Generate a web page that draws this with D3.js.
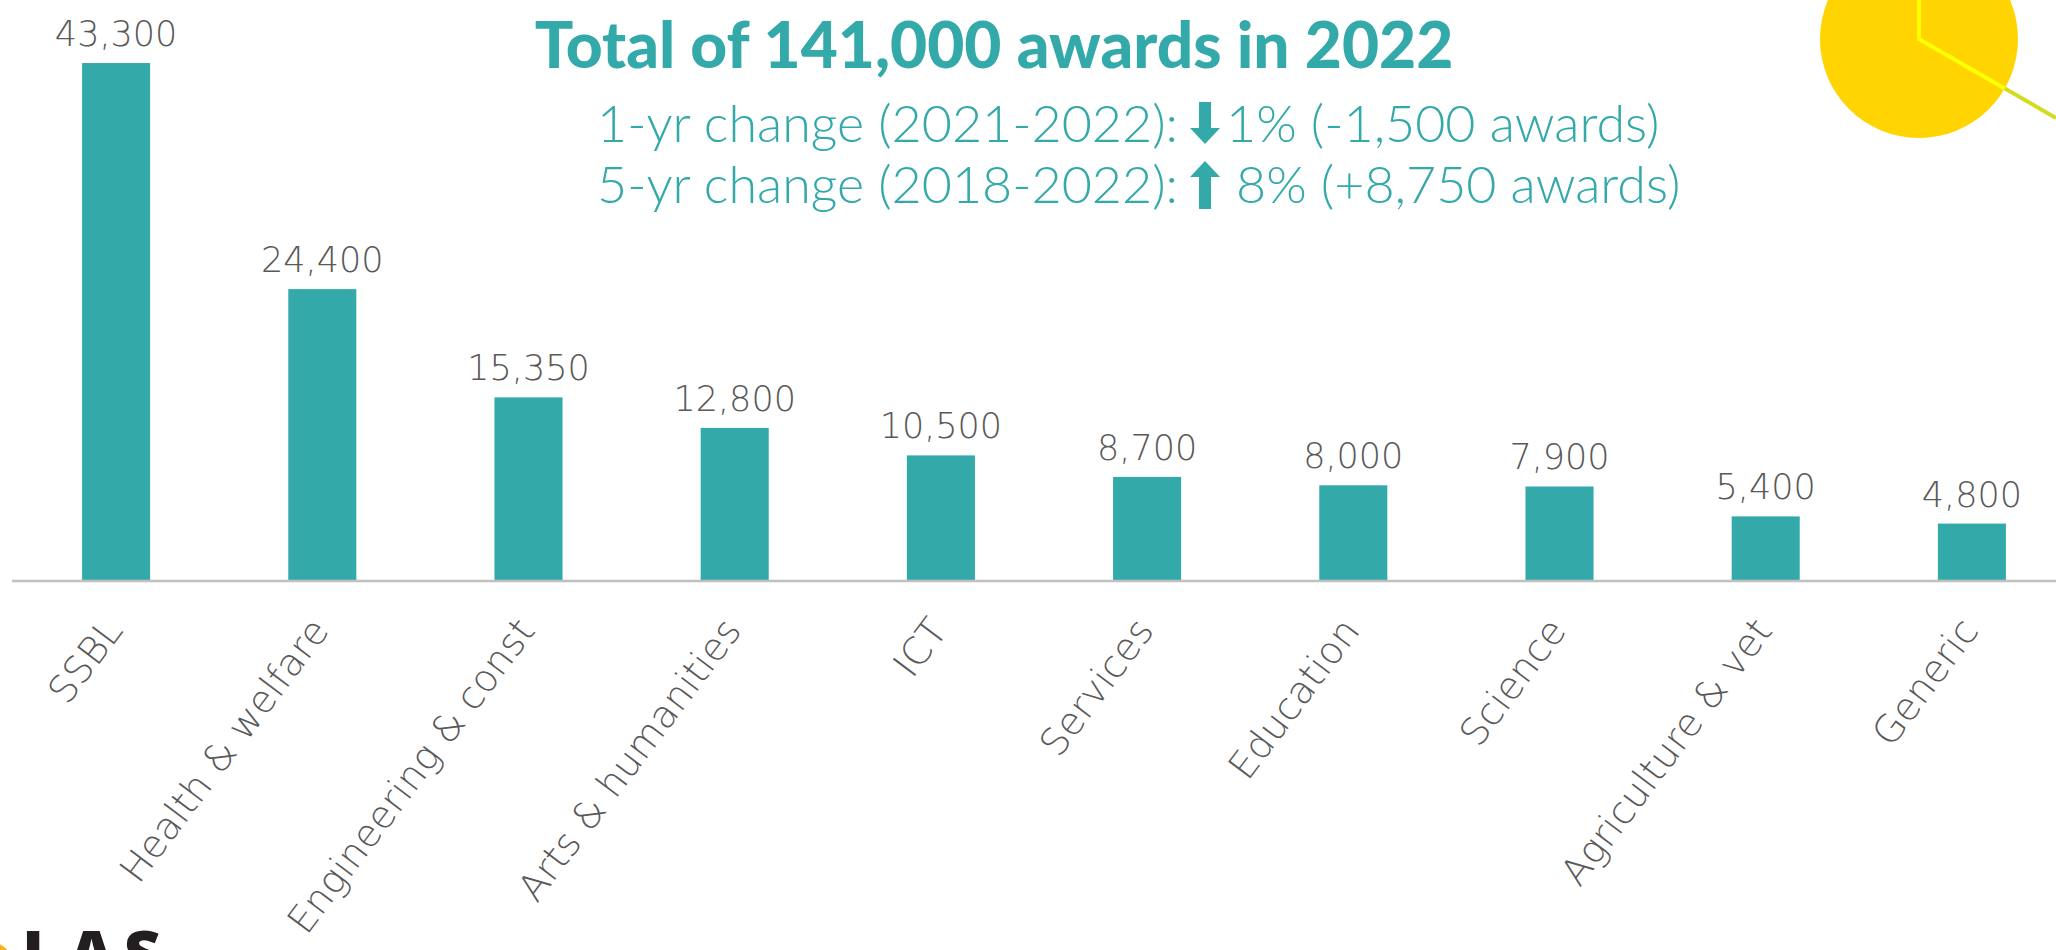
<!DOCTYPE html>
<html>
<head>
<meta charset="utf-8">
<script src="https://cdn.jsdelivr.net/npm/d3@7"></script>
<style>
  html, body { margin: 0; padding: 0; background: #fff; overflow: hidden; }
</style>
</head>
<body>
<script>
// data
var categories = ["SSBL", "Health & welfare", "Engineering & const", "Arts & humanities",
  "ICT", "Services", "Education", "Science", "Agriculture & vet", "Generic"];
var awards = [43300, 24400, 15350, 12800, 10500, 8700, 8000, 7900, 5400, 4800];

var titleText = "Total of 141,000 awards in 2022";
var changeLines = [
  {lead: "1-yr change (2021-2022):", dir: "down", tail: "1% (-1,500 awards)"},
  {lead: "5-yr change (2018-2022):", dir: "up", tail: "8% (+8,750 awards)"}
];

var width = 2056;
var height = 950;
var teal = "#33a9aa";
var grey = "#595959";
var baseY = 581;

var svg = d3.select("body").append("svg")
  .attr("width", width)
  .attr("height", height);

// decoration top right: yellow sun + line
var defs = svg.append("defs");
defs.append("clipPath").attr("id", "sunclip")
  .append("circle").attr("cx", 1919).attr("cy", 39).attr("r", 99);

var grad = defs.append("radialGradient").attr("id", "logoO")
  .attr("cx", "70%").attr("cy", "30%").attr("r", "80%");
grad.append("stop").attr("offset", "0%").attr("stop-color", "#ffc21a");
grad.append("stop").attr("offset", "100%").attr("stop-color", "#f07a1a");

svg.append("circle")
  .attr("cx", 1919).attr("cy", 39).attr("r", 99)
  .attr("fill", "#ffd400");

var sunLine = "M1919,0 L1919,39 L2056,118";
svg.append("path").attr("d", sunLine)
  .attr("fill", "none").attr("stroke", "#d3dc1e").attr("stroke-width", 4);
svg.append("path").attr("d", sunLine)
  .attr("clip-path", "url(#sunclip)")
  .attr("fill", "none").attr("stroke", "#ffff00").attr("stroke-width", 4);

// scales
var x = d3.scaleBand()
  .domain(categories)
  .range([13, 2075])
  .paddingInner(0.67)
  .paddingOuter(0.335);

var y = d3.scaleLinear()
  .domain([0, 45000])
  .range([baseY, 42.7]);

var data = categories.map(function(c, i) { return {cat: c, value: awards[i]}; });

// bars
svg.selectAll(".bar")
  .data(data)
  .enter()
  .append("rect")
  .attr("class", "bar")
  .attr("x", function(d) { return x(d.cat); })
  .attr("y", function(d) { return y(d.value); })
  .attr("width", x.bandwidth())
  .attr("height", function(d) { return baseY - y(d.value); })
  .attr("fill", teal);

// value labels
var fmt = d3.format(",");
svg.selectAll(".val")
  .data(data)
  .enter()
  .append("text")
  .attr("class", "val")
  .attr("x", function(d) { return x(d.cat) + x.bandwidth() / 2; })
  .attr("y", function(d) { return y(d.value) - 17; })
  .attr("text-anchor", "middle")
  .style("font-family", "'DejaVu Sans', sans-serif")
  .style("font-weight", 200)
  .style("font-size", "35px")
  .style("fill", grey)
  .text(function(d) { return fmt(d.value); });

// x axis (baseline + rotated labels)
var xAxis = svg.append("g")
  .attr("transform", "translate(0," + baseY + ")")
  .call(d3.axisBottom(x).tickSize(0).tickPadding(0));

xAxis.select(".domain").remove();
svg.append("line")
  .attr("x1", 12).attr("x2", width)
  .attr("y1", baseY).attr("y2", baseY)
  .attr("stroke", "#c0c0c0").attr("stroke-width", 2.5);

xAxis.selectAll("text")
  .attr("y", 0)
  .attr("dy", 0)
  .attr("transform", "translate(8,50) rotate(-53)")
  .attr("text-anchor", "end")
  .style("font-family", "'DejaVu Sans', sans-serif")
  .style("font-weight", 200)
  .style("font-size", "38px")
  .style("fill", grey);

// headline
svg.append("text")
  .attr("x", 994)
  .attr("y", 68)
  .attr("text-anchor", "middle")
  .style("font-family", "Lato, sans-serif")
  .style("font-weight", 900)
  .style("font-size", "64px")
  .style("fill", teal)
  .text(titleText);

var lineY = [142, 203];
changeLines.forEach(function(l, i) {
  var g = svg.append("g");
  var lead = g.append("text")
    .attr("x", 597)
    .attr("y", lineY[i])
    .style("font-family", "Lato, sans-serif")
    .style("font-weight", 300)
    .style("font-size", "52px")
    .style("fill", teal)
    .text(l.lead);
  var ax = 597 + lead.node().getComputedTextLength() + 12;
  // thick arrow, 30 wide
  var top = lineY[i] - 40, bot = lineY[i] + 2;
  var arrow;
  if (l.dir === "down") {
    arrow = [[ax + 9, top], [ax + 21, top], [ax + 21, bot - 16], [ax + 30, bot - 16],
             [ax + 15, bot], [ax, bot - 16], [ax + 9, bot - 16]];
  } else {
    arrow = [[ax + 9, bot + 4], [ax + 21, bot + 4], [ax + 21, top + 14], [ax + 30, top + 14],
             [ax + 15, top - 2], [ax, top + 14], [ax + 9, top + 14]];
  }
  g.append("path")
    .attr("d", d3.line()(arrow) + "Z")
    .attr("fill", teal);
  g.append("text")
    .attr("x", ax + 36 + (l.dir === "up" ? 10 : 0))
    .attr("y", lineY[i])
    .style("font-family", "Lato, sans-serif")
    .style("font-weight", 300)
    .style("font-size", "52px")
    .style("fill", teal)
    .text(l.tail);
});

// logo fragment bottom left
svg.append("circle")
  .attr("cx", -16).attr("cy", 972).attr("r", 32)
  .attr("fill", "url(#logoO)");
svg.append("text")
  .attr("x", 22)
  .attr("y", 977)
  .style("font-family", "'Open Sans', sans-serif")
  .style("font-weight", 800)
  .style("font-size", "64px")
  .style("letter-spacing", "9px")
  .style("fill", "#231f20")
  .text("LAS");
</script>
</body>
</html>
